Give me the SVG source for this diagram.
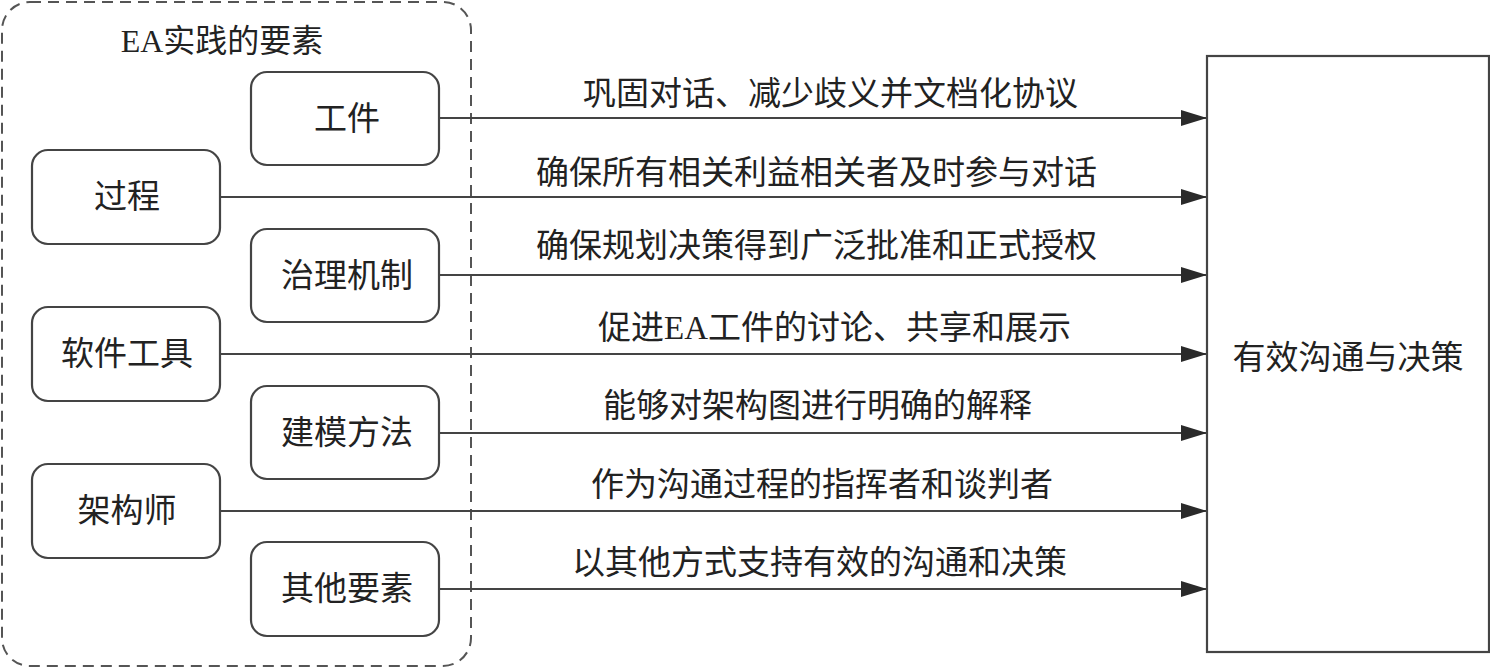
<svg xmlns="http://www.w3.org/2000/svg" width="1490" height="669" viewBox="0 0 1490 669">
<defs>
<marker id="arr" markerUnits="userSpaceOnUse" markerWidth="26" markerHeight="16" refX="26" refY="8" orient="auto">
<path d="M0,0 L26,8 L0,16 Z" fill="#2a2a2a"/>
</marker>
<style>
.box{fill:#fff;stroke:#444;stroke-width:2.2}
.txt{font-family:"Liberation Serif","Noto Sans CJK SC",serif;fill:#222}
.nt{font-size:33px;text-anchor:middle;dominant-baseline:central}
.lt{font-size:33px;dominant-baseline:central}
.con{stroke:#444;stroke-width:2.2;fill:none;marker-end:url(#arr)}
</style>
</defs>
<rect width="1490" height="669" fill="#fff"/>
<g id="container">
<rect x="2" y="2" width="469" height="664" rx="28" ry="28" fill="none" stroke="#555" stroke-width="2" stroke-dasharray="11,7"/>
<text class="txt" x="222" y="41" font-size="32" text-anchor="middle" dominant-baseline="central">EA实践的要素</text>
</g>
<g id="connectors">
<line class="con" x1="439" y1="118" x2="1207" y2="118"/>
<line class="con" x1="220" y1="197" x2="1207" y2="197"/>
<line class="con" x1="439" y1="275" x2="1207" y2="275"/>
<line class="con" x1="220" y1="354" x2="1207" y2="354"/>
<line class="con" x1="439" y1="433" x2="1207" y2="433"/>
<line class="con" x1="220" y1="511" x2="1207" y2="511"/>
<line class="con" x1="439" y1="589" x2="1207" y2="589"/>
<text class="txt lt" x="583" y="94">巩固对话、减少歧义并文档化协议</text>
<text class="txt lt" x="536" y="173">确保所有相关利益相关者及时参与对话</text>
<text class="txt lt" x="536" y="246">确保规划决策得到广泛批准和正式授权</text>
<text class="txt lt" x="598" y="328">促进EA工件的讨论、共享和展示</text>
<text class="txt lt" x="603" y="406">能够对架构图进行明确的解释</text>
<text class="txt lt" x="591" y="485">作为沟通过程的指挥者和谈判者</text>
<text class="txt lt" x="572" y="563">以其他方式支持有效的沟通和决策</text>
</g>
<g id="n-gongjian"><rect class="box" x="251" y="72" width="188" height="93" rx="16"/><text class="txt nt" x="347" y="119">工件</text></g>
<g id="n-guocheng"><rect class="box" x="32" y="150" width="188" height="94" rx="16"/><text class="txt nt" x="127" y="197">过程</text></g>
<g id="n-zhili"><rect class="box" x="251" y="229" width="188" height="93" rx="16"/><text class="txt nt" x="347" y="276">治理机制</text></g>
<g id="n-ruanjian"><rect class="box" x="32" y="307" width="188" height="94" rx="16"/><text class="txt nt" x="127" y="354">软件工具</text></g>
<g id="n-jianmo"><rect class="box" x="251" y="386" width="188" height="93" rx="16"/><text class="txt nt" x="347" y="433">建模方法</text></g>
<g id="n-jiagoushi"><rect class="box" x="32" y="464" width="188" height="94" rx="16"/><text class="txt nt" x="127" y="511">架构师</text></g>
<g id="n-qita"><rect class="box" x="251" y="542" width="188" height="94" rx="16"/><text class="txt nt" x="347" y="589">其他要素</text></g>
<g id="n-target"><rect class="box" x="1207" y="56" width="282" height="596"/><text class="txt nt" x="1348" y="358">有效沟通与决策</text></g>
</svg>
